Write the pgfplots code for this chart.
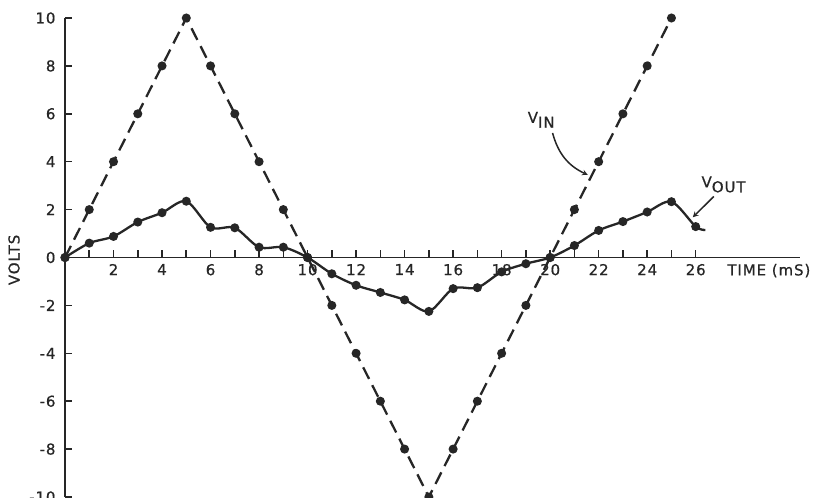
\documentclass[border=0pt]{standalone}
\usepackage{pgfplots}
\pgfplotsset{compat=1.18}
\usepackage{fontspec}
\setmainfont{DejaVu Sans}[LetterSpace=6, FakeBold=0.6]
\definecolor{ink}{RGB}{38,38,38}
\begin{document}
\begin{tikzpicture}[x=1pt,y=1pt]
\useasboundingbox[fill=white] (0,0) rectangle (814,498);
\begin{axis}[
  at={(65pt,1pt)}, anchor=south west,
  scale only axis, width=735pt, height=479pt,
  xmin=0, xmax=30.3, ymin=-10, ymax=10,
  axis lines=middle,
  axis line style={ink, line width=1.8pt, -},
  tick align=inside,
  xtick={2,4,...,26}, minor xtick={1,3,...,25},
  ytick={-10,-8,...,10},
  hide obscured x ticks=false, hide obscured y ticks=false,
  major tick length=7pt, minor tick length=7pt,
  tick style={ink, line width=1.6pt},
  tick label style={font=\fontsize{15}{17}\selectfont, text=ink},
  xticklabel style={yshift=-3pt},
  yticklabel style={xshift=-6pt},
  /pgf/number format/assume math mode=true,
  clip=false,
]
\addplot[ink, line width=2.3pt, dash pattern=on 13pt off 7pt,
  mark=*, mark size=3.3pt, mark options={solid, fill=ink}] coordinates {
  (0,0)(1,2)(2,4)(3,6)(4,8)(5,10)(6,8)(7,6)(8,4)(9,2)(10,0)
  (11,-2)(12,-4)(13,-6)(14,-8)(15,-10)(16,-8)(17,-6)(18,-4)(19,-2)(20,0)
  (21,2)(22,4)(23,6)(24,8)(25,10)};
\addplot[ink, line width=2.3pt, smooth, tension=0.5,
  mark=*, mark size=3.3pt, mark options={fill=ink}, mark indices={1,...,27}] coordinates {
  (0,0)(1,0.6)(2,0.88)(3,1.48)(4,1.87)(5,2.35)(6,1.26)(7,1.24)(8,0.43)(9,0.43)(10,0)
  (11,-0.68)(12,-1.16)(13,-1.46)(14,-1.77)(15,-2.25)(16,-1.3)(17,-1.26)(18,-0.6)(19,-0.26)(20,0)
  (21,0.5)(22,1.13)(23,1.5)(24,1.9)(25,2.33)(26,1.29)(26.4,1.15)};
\node[text=ink, font=\fontsize{15}{17}\selectfont] at (axis cs:19.63,5.75) {V\raisebox{-0.6ex}{IN}};
\draw[ink, line width=1.5pt, -stealth] (axis cs:20.1,5.2) to[bend right=25] (axis cs:21.55,3.45);
\node[text=ink, font=\fontsize{15}{17}\selectfont] at (axis cs:27.15,3.05) {V\raisebox{-0.6ex}{OUT}};
\draw[ink, line width=1.5pt, -stealth] (axis cs:26.75,2.55) -- (axis cs:25.88,1.68);
\node[text=ink, font=\fontsize{15}{17}\selectfont, rotate=90] at (axis cs:-2.1,-0.1) {VOLTS};
\node[text=ink, font=\fontsize{15}{17}\selectfont, anchor=west, inner sep=0pt] at (axis cs:27.3,-0.55) {TIME (mS)};
\end{axis}
\end{tikzpicture}
\end{document}
